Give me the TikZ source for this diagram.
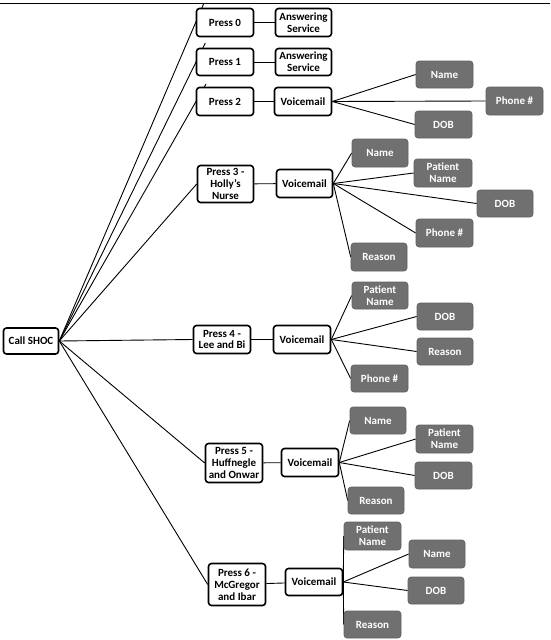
\documentclass[tikz,border=0pt]{standalone}
\usepackage{fontspec}
\setmainfont{Carlito}
\pgfdeclarelayer{background}
\pgfsetlayers{background,main}
\definecolor{greyfill}{RGB}{112,112,112}
\definecolor{greyedge}{RGB}{95,95,95}
\tikzset{
  base/.style={rounded corners=3pt, inner sep=0pt, align=center,
    font=\fontsize{11}{11.8}\selectfont\bfseries},
  wbox/.style={base, draw=black, line width=1.6pt, fill=white},
  gbox/.style={base, draw=greyedge, line width=0.6pt, fill=greyfill, text=white},
  conn/.style={draw=black, line width=0.9pt}
}
\newcommand{\bx}[6]{\node[#1, minimum width=#4pt, minimum height=#5pt] (#2) at #3 {#6};}
\begin{document}
\begin{tikzpicture}[x=1pt,y=-1pt]
\useasboundingbox (0,0) rectangle (550,640);
% root
\bx{wbox}{call}{(31,341)}{55}{26}{Call SHOC}
% group 0/1
\bx{wbox}{p0}{(225,22.5)}{57}{28}{Press 0}
\bx{wbox}{a0}{(303.5,22.5)}{56}{28}{Answering\\Service}
\bx{wbox}{p1}{(225,62)}{57}{27}{Press 1}
\bx{wbox}{a1}{(303.5,62)}{56}{27}{Answering\\Service}
% group 2
\bx{wbox}{p2}{(225,101.5)}{57}{28}{Press 2}
\bx{wbox}{v2}{(303,101.5)}{57}{28}{Voicemail}
\bx{gbox}{g2name}{(444.5,74.5)}{57}{27}{Name}
\bx{gbox}{g2phone}{(514.5,101)}{57}{28}{Phone \#}
\bx{gbox}{g2dob}{(443.5,124.5)}{57}{27}{DOB}
% group 3
\bx{wbox}{p3}{(225.5,184)}{56}{37}{Press 3 -\\Holly's\\Nurse}
\bx{wbox}{v3}{(304.5,183.5)}{56}{28}{Voicemail}
\bx{gbox}{g3name}{(380,153)}{56}{28}{Name}
\bx{gbox}{g3pname}{(443,173)}{58}{28}{Patient\\Name}
\bx{gbox}{g3dob}{(505,203.5)}{56}{27}{DOB}
\bx{gbox}{g3phone}{(444.5,233)}{57}{28}{Phone \#}
\bx{gbox}{g3reason}{(379,257)}{56}{28}{Reason}
% group 4
\bx{wbox}{p4}{(222,339.5)}{57}{28}{Press 4 -\\Lee and Bi}
\bx{wbox}{v4}{(302,339.5)}{57}{28}{Voicemail}
\bx{gbox}{g4pname}{(380,295.5)}{56}{27}{Patient\\Name}
\bx{gbox}{g4dob}{(445,316.5)}{56}{27}{DOB}
\bx{gbox}{g4reason}{(445,351.5)}{56}{27}{Reason}
\bx{gbox}{g4phone}{(379.5,378.5)}{57}{27}{Phone \#}
% group 5
\bx{wbox}{p5}{(234,463)}{57}{39}{Press 5 -\\Huffnegle\\and Onwar}
\bx{wbox}{v5}{(310,462.5)}{57}{28}{Voicemail}
\bx{gbox}{g5name}{(378,420.5)}{56}{27}{Name}
\bx{gbox}{g5pname}{(444.5,439)}{57}{28}{Patient\\Name}
\bx{gbox}{g5dob}{(443.5,475.5)}{57}{27}{DOB}
\bx{gbox}{g5reason}{(376,500.5)}{56}{27}{Reason}
% group 6
\bx{wbox}{p6}{(237,584.5)}{57}{42}{Press 6 -\\McGregor\\and Ibar}
\bx{wbox}{v6}{(314,582)}{57}{27}{Voicemail}
\bx{gbox}{g6pname}{(372.5,536)}{57}{28}{Patient\\Name}
\bx{gbox}{g6name}{(437,554)}{56}{28}{Name}
\bx{gbox}{g6dob}{(436,590.5)}{56}{27}{DOB}
\bx{gbox}{g6reason}{(372.5,624.5)}{57}{27}{Reason}
% free ends
\coordinate (tl) at (0,3);
\coordinate (tr) at (550,3);
\coordinate (e0) at (204,3);
\coordinate (e1) at (205.3,43);
\coordinate (e2) at (206,84);
\begin{pgfonlayer}{background}
\draw[black, line width=1pt] (tl) -- (tr);
\draw[conn] (call.east) -- (e0);
\draw[conn] (call.east) -- (e1);
\draw[conn] (call.east) -- (e2);
\draw[conn] (call.east) -- (p3.west);
\draw[conn] (call.east) -- (p4.west);
\draw[conn] (call.east) -- (p5.west);
\draw[conn] (call.east) -- (p6.west);
\draw[conn] (p0) -- (a0);
\draw[conn] (p1) -- (a1);
\draw[conn] (p2) -- (v2);
\draw[conn] (p3) -- (v3);
\draw[conn] (p4) -- (v4);
\draw[conn] (p5) -- (v5);
\draw[conn] (p6) -- (v6);
\foreach \g in {g2name,g2phone,g2dob} \draw[conn] (v2.east) -- (\g.west);
\foreach \g in {g3name,g3pname,g3dob,g3phone,g3reason} \draw[conn] (v3.east) -- (\g.west);
\foreach \g in {g4pname,g4dob,g4reason,g4phone} \draw[conn] (v4.east) -- (\g.west);
\foreach \g in {g5name,g5pname,g5dob,g5reason} \draw[conn] (v5.east) -- (\g.west);
\foreach \g in {g6pname,g6name,g6dob,g6reason} \draw[conn] (v6.east) -- (\g.west);
\end{pgfonlayer}
\end{tikzpicture}
\end{document}
